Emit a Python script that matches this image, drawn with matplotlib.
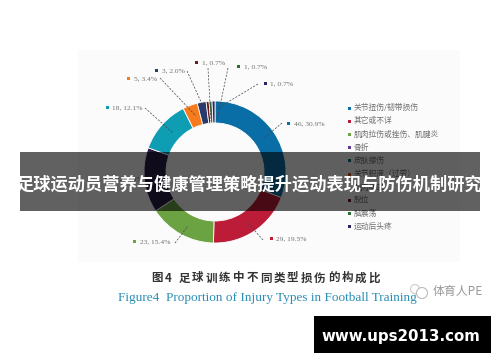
import matplotlib
matplotlib.use('Agg')
import matplotlib.pyplot as plt
from matplotlib.patches import Rectangle

plt.rcParams['font.family'] = ['Noto Sans CJK SC', 'DejaVu Sans']

W, H = 500, 362

# chart data, clockwise from 12 o'clock
counts = [46, 29, 23, 22, 18, 5, 3, 1, 1, 1]
percents = ['30.9%', '19.5%', '15.4%', '14.8%', '12.1%', '3.4%', '2.0%', '0.7%', '0.7%', '0.7%']
colors = ['#0a6ea6', '#bd1c38', '#6ba343', '#2c1d45', '#0f9db3', '#f77a1c', '#2b3a6b', '#6b1a1f', '#2f6b35', '#2a2560']
legend_names = ['关节扭伤/韧带损伤', '其它或不详', '肌肉拉伤或挫伤、肌腱炎', '骨折', '皮肤擦伤',
                '关节积液（过劳）', '肌肉痉挛', '脱位', '脑震荡', '运动后头疼']
legend_colors = ['#0a6ea6', '#bd1c38', '#6ba343', '#5b3a96', '#0b6f78', '#c8541a', '#2b3a6b', '#6b1a1f', '#2f6b35', '#2a2560']

title = '足球运动员营养与健康管理策略提升运动表现与防伤机制研究'
caption_cn = '足球训练中不同类型损伤的构成比'
caption_en = 'Figure4  Proportion of Injury Types in Football Training'
watermark = '体育人PE'
site = 'www.ups2013.com'

# label square position and leader ends, in image pixels
label_pos = [(288, 123), (271, 238), (134, 241), (106, 178), (107, 107), (128, 78), (156, 70), (196, 62), (238, 66), (265, 83)]
leader_from = [(282, 123), (263, 240), (175, 243), (142, 178), (145, 108), (160, 78), (187, 71), (208, 68), (228, 68), (258, 84)]
leader_to = [(264, 138), (248, 223), (188, 226), (166, 172), (173, 133), (196, 116), (202, 104), (211, 121), (217, 120), (218, 108)]

fig = plt.figure(figsize=(W / 100, H / 100), dpi=100)
bg = fig.add_axes([0, 0, 1, 1])
bg.set_xlim(0, W)
bg.set_ylim(H, 0)
bg.axis('off')

# faint chart panel
bg.add_patch(Rectangle((78, 50), 382, 212, fc='#fbfbfb', ec='none', zorder=0))

# donut
cx, cy, r = 215, 172, 71
ax = fig.add_axes([(cx - r) / W, 1 - (cy + r) / H, 2 * r / W, 2 * r / H])
wedges, _ = ax.pie(counts, colors=colors, startangle=90, counterclock=False, radius=1,
                   wedgeprops=dict(width=22 / r, edgecolor='white', linewidth=0.6))
ax.set_xlim(-1, 1)
ax.set_ylim(-1, 1)
ax.patch.set_alpha(0)

# overlay for the leaders, above the donut
top = fig.add_axes([0, 0, 1, 1])
top.set_xlim(0, W)
top.set_ylim(H, 0)
top.axis('off')
top.patch.set_alpha(0)

for n, p, (lx, ly), a, b, c in zip(counts, percents, label_pos, leader_from, leader_to, colors):
    top.add_patch(Rectangle((lx - 1.5, ly - 1.5), 3, 3, fc=c, ec='none', zorder=5))
    top.text(lx + 5.5, ly + 0.5, f'{n}, {p}', fontsize=5.4, family='Liberation Serif', color='#707070', va='center', zorder=5)
    top.plot([a[0], b[0]], [a[1], b[1]], color='#444444', lw=0.5, ls=(0, (3, 2)), zorder=6)

# legend
for i, (name, c) in enumerate(zip(legend_names, legend_colors)):
    y = 108 + i * 13.2
    top.add_patch(Rectangle((347.5, y - 1.5), 3, 3, fc=c, ec='none', zorder=5))
    top.text(353.5, y, name, fontsize=5.6, color='#707070', va='center', zorder=5)

# captions
top.text(156.5, 278, '图', fontsize=8.3, color='#333333', ha='center', va='center', fontweight='bold')
top.text(168, 278, '4', fontsize=8.3, color='#333333', ha='center', va='center', fontweight='bold')
for i, ch in enumerate(caption_cn):
    top.text(184 + i * 13.6, 278, ch, fontsize=8.3, color='#333333', ha='center', va='center', fontweight='bold')
top.text(267, 298, caption_en, fontsize=9.5, family='Liberation Serif', color='#2a8fb5', ha='center', va='center')

# watermark
top.text(433, 291.5, watermark, fontsize=8.6, color='#999999', va='center', zorder=8)
top.add_patch(plt.Circle((415, 289), 4.5, fc='white', ec='#cccccc', lw=0.8, zorder=8))
top.add_patch(plt.Circle((422, 293), 5.5, fc='white', ec='#bbbbbb', lw=0.8, zorder=8))

# title banner
top.add_patch(Rectangle((20, 152), 460, 59, fc='black', alpha=0.62, ec='none', zorder=10))
top.text(249.5, 185, title, fontsize=12.4, color='white', ha='center', va='center', fontweight='bold', zorder=11)

# site badge
top.add_patch(Rectangle((314, 316), 177, 37, fc='black', ec='none', zorder=10))
top.text(401, 336, site, fontsize=10.8, family='DejaVu Sans', color='white', ha='center', va='center', fontweight='bold', zorder=11)

fig.savefig('out.png', dpi=100, facecolor='white')
